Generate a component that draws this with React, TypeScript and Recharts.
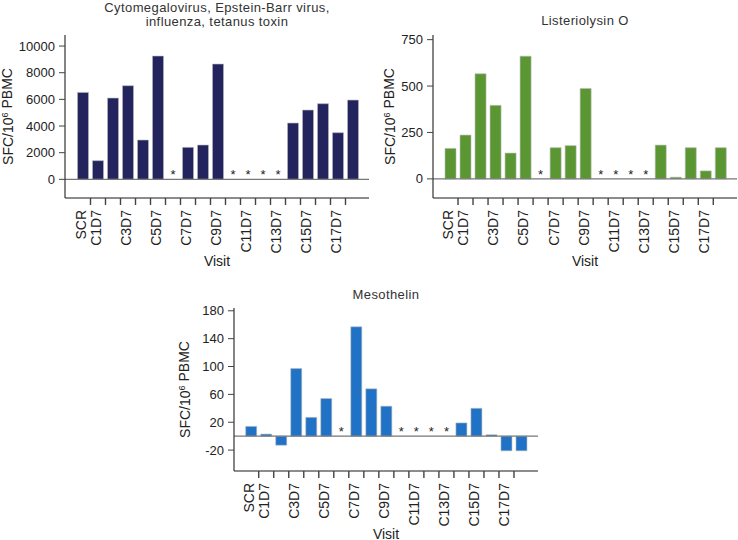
import React from "react";
import { BarChart, Bar, XAxis, YAxis, ReferenceLine, ReferenceDot } from "recharts";

const visits = [
  "SCR", "C1D7", "C2D7", "C3D7", "C4D7", "C5D7", "C6D7", "C7D7", "C8D7", "C9D7",
  "C10D7", "C11D7", "C12D7", "C13D7", "C14D7", "C15D7", "C16D7", "C17D7", "C18D7",
];
const shownLabels = ["SCR", "C1D7", "C3D7", "C5D7", "C7D7", "C9D7", "C11D7", "C13D7", "C15D7", "C17D7"];

// null = not measured (drawn as *)
const viralValues = [6525, 1400, 6100, 7025, 2950, 9250, null, 2400, 2575, 8650, null, null, null, null, 4225, 5200, 5675, 3500, 5950];
const lloValues = [164, 236, 566, 396, 139, 661, null, 168, 179, 487, null, null, null, null, 182, 9, 168, 43, 168];
const mesoValues = [14, 3, -13, 97, 27, 54, null, 157, 68, 43, null, null, null, null, 19, 40, 2, -21, -21];

const viralTicks = [0, 2000, 4000, 6000, 8000, 10000];
const lloTicks = [0, 250, 500, 750];
const mesoTicks = [-20, 20, 60, 100, 140, 180];

const FONT = "'Liberation Sans', Arial, Helvetica, sans-serif";
const BOX_H = "#666";
const BOX_V = "#333";

type PanelProps = {
  title: string[];
  titleTop: number;
  values: (number | null)[];
  ticks: number[];
  domain: [number, number];
  color: string;
  left: number;
  top: number;
  width: number;
  height: number;
  margin: { top: number; right: number; left: number; bottom: number };
  yWidth: number;
  xHeight: number;
  padL: number;
  padR: number;
  yLabelX: number;
};

function Panel(p: PanelProps) {
  const data = visits.map((visit, i) => ({ visit, value: p.values[i] }));
  const missing = visits.filter((_, i) => p.values[i] == null);
  const plotW = p.width - p.margin.left - p.margin.right - p.yWidth;
  const plotH = p.height - p.margin.top - p.margin.bottom - p.xHeight;
  const step = (plotW - p.padL - p.padR) / visits.length;
  const boxLeft = p.margin.left + p.yWidth;
  const axisY = p.margin.top + plotH;

  // tick marks sit between bars; only some visits get a label
  const renderTick = (props: any) => {
    const { x, payload } = props;
    const name = payload.value;
    const i = visits.indexOf(name);
    return (
      <g>
        {i > 0 && <rect x={x - step / 2 - 0.7} y={axisY} width={1.4} height={7} fill="#444" />}
        {shownLabels.includes(name) && (
          <text
            x={0}
            y={0}
            transform={`translate(${x - 2},${axisY + 12}) rotate(-90)`}
            textAnchor="end"
            dy="0.35em"
            fontSize={14}
            fill="#222"
            fontFamily={FONT}
          >
            {name}
          </text>
        )}
      </g>
    );
  };

  const renderStar = (props: any) => (
    <text x={props.cx} y={props.cy} textAnchor="middle" fontSize={13} fill="#222" fontFamily={FONT}>
      *
    </text>
  );

  const renderYLabel = () => {
    const cy = p.margin.top + plotH / 2;
    return (
      <text
        transform={`translate(${p.yLabelX},${cy}) rotate(-90)`}
        textAnchor="middle"
        dy="0.35em"
        fontSize={14}
        fill="#222"
        fontFamily={FONT}
      >
        SFC/10
        <tspan fontSize={9} dy="-0.6em">6</tspan>
        <tspan dy="0.35em"> PBMC</tspan>
      </text>
    );
  };

  const renderXLabel = () => (
    <text
      x={boxLeft + plotW / 2}
      y={axisY + 63}
      textAnchor="middle"
      dy="0.35em"
      fontSize={14}
      fill="#222"
      fontFamily={FONT}
    >
      Visit
    </text>
  );

  return (
    <div style={{ position: "absolute", left: p.left, top: p.top, width: p.width, height: p.height }}>
      <div
        style={{
          position: "absolute",
          left: boxLeft,
          width: plotW,
          top: p.titleTop,
          textAlign: "center",
          fontFamily: FONT,
          fontSize: 13,
          letterSpacing: "0.4px",
          lineHeight: "14px",
          color: "#333",
          whiteSpace: "nowrap",
        }}
      >
        {p.title.map((t) => (
          <div key={t}>{t}</div>
        ))}
      </div>
      <div style={{ position: "absolute", left: 0, top: 0 }}>
        <BarChart width={p.width} height={p.height} data={data} margin={p.margin} barCategoryGap={0}>
          <XAxis
            xAxisId="bottom"
            dataKey="visit"
            height={p.xHeight}
            interval={0}
            padding={{ left: p.padL, right: p.padR }}
            tickLine={false}
            tickSize={0}
            tickMargin={0}
            axisLine={{ stroke: BOX_H, strokeWidth: 1.5 }}
            tick={renderTick}
            label={renderXLabel}
          />
          <XAxis
            xAxisId="top"
            dataKey="visit"
            orientation="top"
            height={0}
            tick={false}
            tickLine={false}
            axisLine={{ stroke: BOX_H, strokeWidth: 1.2 }}
          />
          <YAxis
            yAxisId="left"
            width={p.yWidth}
            domain={p.domain}
            ticks={p.ticks}
            allowDataOverflow
            tickSize={6}
            tickMargin={4}
            tickLine={{ stroke: "#444" }}
            axisLine={{ stroke: BOX_V, strokeWidth: 1.2 }}
            tick={{ fontSize: 13, fill: "#222", fontFamily: FONT }}
            label={renderYLabel}
          />
          <YAxis
            yAxisId="right"
            orientation="right"
            width={0}
            domain={p.domain}
            allowDataOverflow
            tick={false}
            tickLine={false}
            axisLine={{ stroke: BOX_V, strokeWidth: 1.2 }}
          />
          <Bar
            xAxisId="bottom"
            yAxisId="left"
            dataKey="value"
            barSize={11}
            fill={p.color}
            stroke="#b8b8b8"
            strokeWidth={0.6}
            isAnimationActive={false}
          />
          <ReferenceLine xAxisId="bottom" yAxisId="left" y={0} stroke="#777" strokeWidth={1.3} />
          {missing.map((v) => (
            <ReferenceDot key={v} xAxisId="bottom" yAxisId="left" x={v} y={0} r={2} shape={renderStar} />
          ))}
        </BarChart>
      </div>
    </div>
  );
}

export default function App() {
  return (
    <div style={{ position: "absolute", left: 0, top: 0, width: 738, height: 540, background: "#fff", overflow: "hidden" }}>
      <Panel
        title={["Cytomegalovirus, Epstein-Barr virus,", "influenza, tetanus toxin"]}
        titleTop={1.2}
        values={viralValues}
        ticks={viralTicks}
        domain={[-1400, 10830]}
        color="#23235d"
        left={0}
        top={0}
        width={370}
        height={270}
        margin={{ top: 35, right: 1, left: 0, bottom: 0 }}
        yWidth={65}
        xHeight={72}
        padL={10.5}
        padR={8.5}
        yLabelX={8}
      />
      <Panel
        title={["Listeriolysin O"]}
        titleTop={14.2}
        values={lloValues}
        ticks={lloTicks}
        domain={[-103, 775]}
        color="#5a9632"
        left={370}
        top={0}
        width={368}
        height={270}
        margin={{ top: 35, right: 1, left: 0, bottom: 0 }}
        yWidth={63}
        xHeight={72}
        padL={10}
        padR={8.7}
        yLabelX={20}
      />
      <Panel
        title={["Mesothelin"]}
        titleTop={18}
        values={mesoValues}
        ticks={mesoTicks}
        domain={[-50, 184]}
        color="#1f72c6"
        left={170}
        top={270}
        width={380}
        height={270}
        margin={{ top: 38, right: 12, left: 0, bottom: 0 }}
        yWidth={64}
        xHeight={69}
        padL={9.7}
        padR={9}
        yLabelX={15}
      />
    </div>
  );
}
